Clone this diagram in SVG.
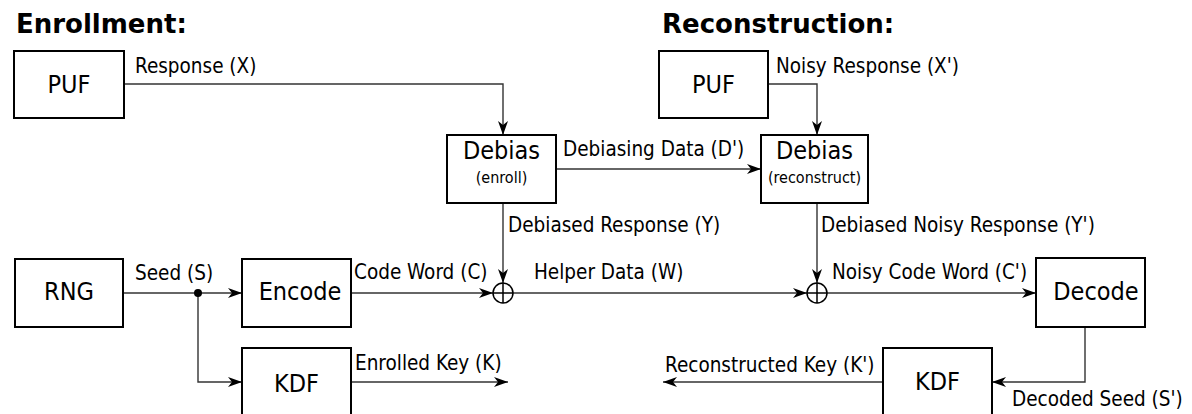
<svg xmlns="http://www.w3.org/2000/svg" width="1192" height="414" viewBox="0 0 1192 414">
<defs>
<style>
.box{fill:#fff;stroke:#000;stroke-width:2}
.big{font-family:"DejaVu Sans Condensed","DejaVu Sans",sans-serif;font-stretch:condensed;font-size:25px;fill:#000;text-anchor:middle}
.sub{font-family:"DejaVu Sans Condensed","DejaVu Sans",sans-serif;font-stretch:condensed;font-size:16px;fill:#000;text-anchor:middle}
.lbl{font-family:"DejaVu Sans Condensed","DejaVu Sans",sans-serif;font-stretch:condensed;font-size:20.5px;fill:#000}
.title{font-family:"DejaVu Sans",sans-serif;font-size:26px;font-weight:bold;fill:#000}
.wire{fill:none;stroke:#333;stroke-width:1.4}
.arr{marker-end:url(#ah)}
.xor{fill:#fff;stroke:#000;stroke-width:1.5}
</style>
<marker id="ah" markerUnits="userSpaceOnUse" markerWidth="15" markerHeight="11" refX="14" refY="5.5" orient="auto">
<path d="M0,0.5 L14,5.5 L0,10.5 L4,5.5 Z" fill="#000"/>
</marker>
</defs>
<rect width="1192" height="414" fill="#fff"/>
<text class="title" x="16" y="33">Enrollment:</text>
<text class="title" x="662" y="33">Reconstruction:</text>

<g id="connectors">
<path class="wire arr" d="M124,84 H503 V135"/>
<path class="wire arr" d="M768,84 H817 V135"/>
<path class="wire arr" d="M556,169 H761"/>
<path class="wire arr" d="M503,203 V283"/>
<path class="wire arr" d="M817,203 V283"/>
<path class="wire arr" d="M123,293 H242"/>
<path class="wire arr" d="M198,293 V382 H242"/>
<path class="wire arr" d="M351,293 H493"/>
<path class="wire arr" d="M513,293 H807"/>
<path class="wire arr" d="M827,293 H1036"/>
<path class="wire arr" d="M1085,327 V382 H992"/>
<path class="wire arr" d="M351,382 H508"/>
<path class="wire arr" d="M883,382 H663"/>
<circle cx="198" cy="293" r="4" fill="#000"/>
<text class="lbl" x="135" y="73">Response (X)</text>
<text class="lbl" x="776" y="73">Noisy Response (X')</text>
<text class="lbl" x="563" y="156">Debiasing Data (D')</text>
<text class="lbl" x="508" y="232">Debiased Response (Y)</text>
<text class="lbl" x="821" y="232">Debiased Noisy Response (Y')</text>
<text class="lbl" x="135" y="280">Seed (S)</text>
<text class="lbl" x="354" y="279">Code Word (C)</text>
<text class="lbl" x="534" y="279">Helper Data (W)</text>
<text class="lbl" x="832" y="279">Noisy Code Word (C')</text>
<text class="lbl" x="355" y="370">Enrolled Key (K)</text>
<text class="lbl" x="665" y="372">Reconstructed Key (K')</text>
<text class="lbl" x="1012" y="406">Decoded Seed (S')</text>
</g>

<g id="puf-enroll"><rect class="box" x="14" y="51" width="110" height="67"/><text class="big" x="69" y="93">PUF</text></g>
<g id="puf-recon"><rect class="box" x="659" y="51" width="109" height="67"/><text class="big" x="713.5" y="93">PUF</text></g>
<g id="debias-enroll"><rect class="box" x="447" y="135" width="109" height="68"/><text class="big" x="501.5" y="159">Debias</text><text class="sub" x="501.5" y="183">(enroll)</text></g>
<g id="debias-recon"><rect class="box" x="761" y="135" width="107" height="68"/><text class="big" x="814.5" y="159">Debias</text><text class="sub" x="814.5" y="183">(reconstruct)</text></g>
<g id="rng"><rect class="box" x="15" y="259" width="108" height="68"/><text class="big" x="69" y="300">RNG</text></g>
<g id="encode"><rect class="box" x="242" y="259" width="109" height="68"/><text class="big" x="300" y="300">Encode</text></g>
<g id="kdf-enroll"><rect class="box" x="242" y="348" width="109" height="70"/><text class="big" x="296.5" y="392">KDF</text></g>
<g id="decode"><rect class="box" x="1036" y="258" width="109" height="69"/><text class="big" x="1096" y="300">Decode</text></g>
<g id="kdf-recon"><rect class="box" x="883" y="348" width="109" height="70"/><text class="big" x="937.5" y="390">KDF</text></g>
<g id="xor-enroll"><circle class="xor" cx="503" cy="293" r="10"/><path d="M493,293 H513 M503,283 V303" stroke="#000" stroke-width="1.5"/></g>
<g id="xor-recon"><circle class="xor" cx="817" cy="293" r="10"/><path d="M807,293 H827 M817,283 V303" stroke="#000" stroke-width="1.5"/></g>
</svg>
